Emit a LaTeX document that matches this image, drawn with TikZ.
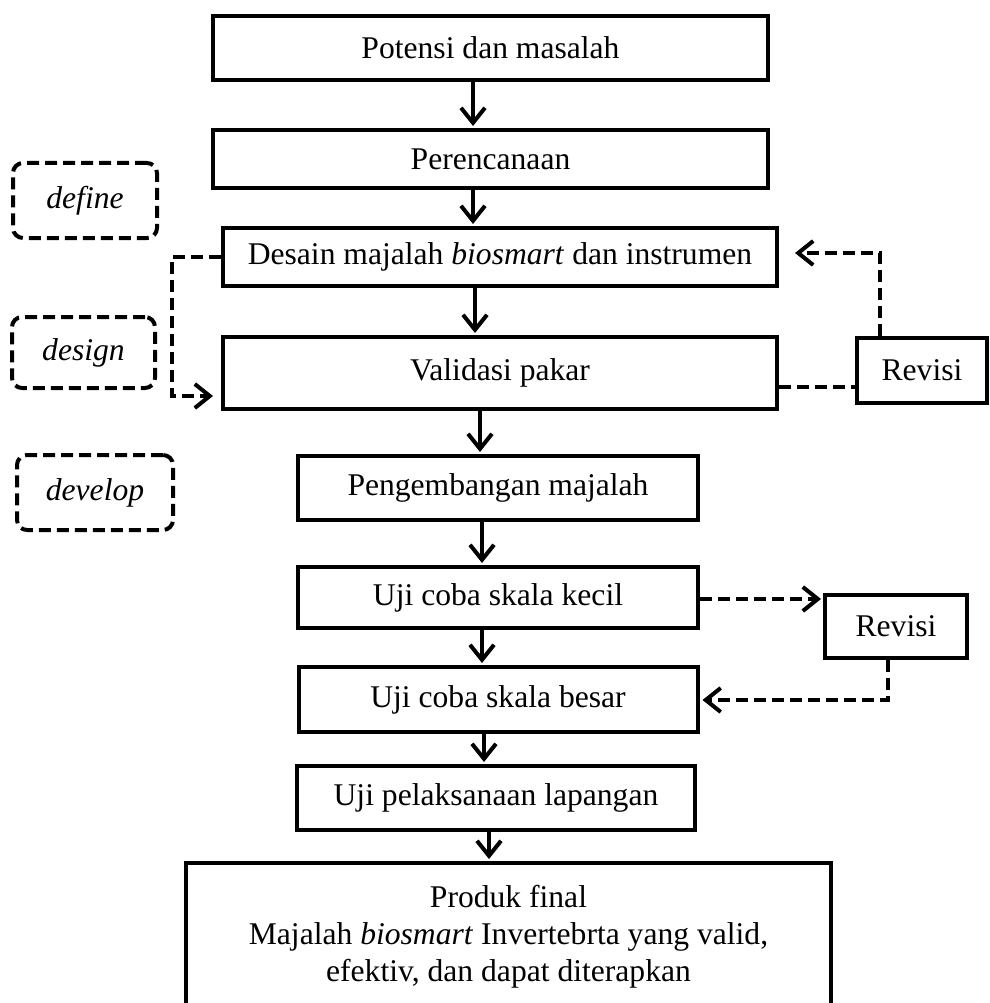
\documentclass[tikz,border=0pt]{standalone}
\usepackage{fontspec}
\setmainfont{Liberation Serif}
\usetikzlibrary{arrows.meta,calc}
\begin{document}
\begin{tikzpicture}[x=1pt,y=-1pt,
  box/.style={draw, line width=4pt, inner sep=0pt, font=\fontsize{31.6}{37}\selectfont, align=center},
  phase/.style={draw, dash pattern=on 12pt off 6pt, line width=4pt, rounded corners=10pt, inner sep=0pt, font=\fontsize{31.6}{37}\selectfont\itshape},
  tip/.style={-{Straight Barb[length=15pt,width=24pt,line width=4pt]}},
  arr/.style={line width=4pt, tip},
  dline/.style={line width=4pt, dash pattern=on 12pt off 6pt},
  darr/.style={dline, tip}]
\clip (0,0) rectangle (989,1003);
\fill[white] (0,0) rectangle (989,1003);

\node[box, minimum width=555pt, minimum height=64pt] (p1) at (490.5,48) {Potensi dan masalah};
\node[box, minimum width=555pt, minimum height=58pt] (p2) at (490.5,159) {Perencanaan};
\node[box, minimum width=554pt, minimum height=58pt] (p3) at (500,257) {Desain majalah \textit{biosmart} dan instrumen};
\node[box, minimum width=554pt, minimum height=72pt] (p4) at (500,373) {Validasi pakar};
\node[box, minimum width=130pt, minimum height=65pt] (r1) at (922,370.5) {Revisi};
\node[box, minimum width=400pt, minimum height=64pt] (p5) at (498,488) {Pengembangan majalah};
\node[box, minimum width=400pt, minimum height=61pt] (p6) at (498,597.5) {Uji coba skala kecil};
\node[box, minimum width=142pt, minimum height=63pt] (r2) at (896,626.5) {Revisi};
\node[box, minimum width=399pt, minimum height=65pt] (p7) at (498,699.5) {Uji coba skala besar};
\node[box, minimum width=398pt, minimum height=64pt] (p8) at (496,798) {Uji pelaksanaan lapangan};
\node[box, minimum width=645pt, minimum height=147pt] (p9) at (508.5,936.5) {Produk final\\Majalah \textit{biosmart} Invertebrta yang valid,\\efektiv, dan dapat diterapkan};

\node[phase, minimum width=144pt, minimum height=75pt] (ph1) at (85,200.5) {define};
\node[phase, minimum width=143pt, minimum height=71pt] (ph2) at (83.5,352.5) {design};
\node[phase, minimum width=156pt, minimum height=75pt] (ph3) at (95,492.5) {develop};

\coordinate (c1) at (473,0);
\coordinate (c2) at (475,0);
\coordinate (c3) at (480,0);
\coordinate (c4) at (482,0);
\coordinate (c5) at (484,0);
\coordinate (c6) at (489,0);
\draw[arr, shorten >=2pt] (p1.south -| c1) -- (p2.north -| c1);
\draw[arr, shorten >=2pt] (p2.south -| c1) -- (p3.north -| c1);
\draw[arr, shorten >=2pt] (p3.south -| c2) -- (p4.north -| c2);
\draw[arr, shorten >=2pt] (p4.south -| c3) -- (p5.north -| c3);
\draw[arr, shorten >=2pt] (p5.south -| c4) -- (p6.north -| c4);
\draw[arr, shorten >=2pt] (p6.south -| c4) -- (p7.north -| c4);
\draw[arr, shorten >=2pt] (p7.south -| c5) -- (p8.north -| c5);
\draw[arr, shorten >=2pt] (p8.south -| c6) -- (p9.north -| c6);

% design loop on the left
\coordinate (l1) at (172,257);
\coordinate (l2) at (172,396);
\draw[darr, shorten >=8pt] (p3.west) -- (l1) -- (l2) -- (p4.west |- l2);

% validasi -- revisi -- desain
\coordinate (v1) at (0,387);
\draw[dline] (p4.east |- v1) -- (r1.west |- v1);
\coordinate (u1) at (880,253);
\draw[darr, shorten >=16pt] (r1.north -| u1) -- (u1) -- (p3.east |- u1);

% kecil -- revisi -- besar
\coordinate (k1) at (0,599);
\draw[darr, shorten >=2pt] (p6.east |- k1) -- (r2.west |- k1);
\coordinate (b1) at (888,700);
\draw[darr, shorten >=3pt] (r2.south -| b1) -- (b1) -- (p7.east |- b1);
\end{tikzpicture}
\end{document}
